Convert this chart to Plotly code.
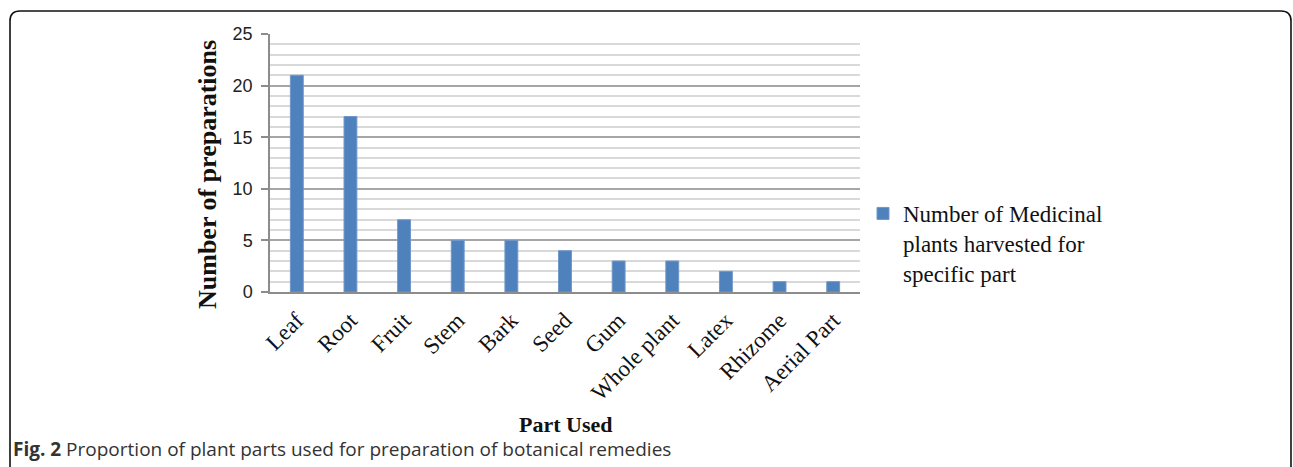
import plotly.graph_objects as go

categories = ["Leaf", "Root", "Fruit", "Stem", "Bark", "Seed", "Gum",
              "Whole plant", "Latex", "Rhizome", "Aerial Part"]
values = [21, 17, 7, 5, 5, 4, 3, 3, 2, 1, 1]
series_name = "Number of Medicinal<br>plants harvested for<br>specific part"
y_ticks = [0, 5, 10, 15, 20, 25]

W, H = 1293, 467
ML, MR, MT, MB = 270, W - 860, 34, H - 292


def px(x):
    return (x - ML) / (W - ML - MR)


def py(y):
    return (H - MB - y) / (H - MT - MB)


fig = go.Figure()
fig.add_trace(go.Bar(
    x=categories, y=values, name=series_name,
    marker=dict(color="#4F81BD", line=dict(color="#6F97C9", width=1)),
    showlegend=True,
))

frame = (f"M {px(10)},{py(480)} L {px(10)},{py(21)} "
         f"Q {px(10)},{py(11)} {px(20)},{py(11)} "
         f"L {px(1281)},{py(11)} "
         f"Q {px(1291)},{py(11)} {px(1291)},{py(21)} "
         f"L {px(1291)},{py(480)}")

fig.update_layout(
    width=W, height=H,
    margin=dict(l=ML, r=MR, t=MT, b=MB),
    paper_bgcolor="white", plot_bgcolor="white",
    bargap=0.76,
    showlegend=True,
    legend=dict(
        x=px(863), y=py(192), xanchor="left", yanchor="top",
        font=dict(family="Liberation Serif", size=23, color="#111"),
        valign="top", itemwidth=30, tracegroupgap=0,
        bgcolor="rgba(0,0,0,0)",
    ),
    xaxis=dict(
        showline=True, linecolor="#8c8c8c", linewidth=1.5,
        ticks="", tickangle=-45,
        tickfont=dict(family="Liberation Serif", size=23, color="#111"),
        ticklabelstandoff=4,
        automargin=False,
    ),
    yaxis=dict(
        range=[0, 25], tickvals=y_ticks,
        showline=True, linecolor="#8c8c8c", linewidth=1.5,
        ticks="outside", ticklen=7, tickcolor="#8c8c8c", tickwidth=1.5,
        showgrid=True, gridcolor="#a6a6a6", gridwidth=1.5,
        minor=dict(dtick=1, showgrid=True, gridcolor="#d9d9d9", gridwidth=1.5),
        tickfont=dict(family="Liberation Sans", size=18, color="#222"),
        ticklabelstandoff=5,
        zeroline=False,
        automargin=False,
    ),
    shapes=[dict(type="path", xref="paper", yref="paper", path=frame,
                 line=dict(color="#111", width=1.6), layer="above")],
    annotations=[
        dict(xref="paper", yref="paper", x=px(207), y=py(175),
             xanchor="center", yanchor="middle", showarrow=False,
             textangle=-90, text="<b>Number of preparations</b>",
             font=dict(family="Liberation Serif", size=26, color="#111")),
        dict(xref="paper", yref="paper", x=px(565), y=py(424),
             xanchor="center", yanchor="middle", showarrow=False,
             text="<b>Part Used</b>",
             font=dict(family="Liberation Serif", size=22, color="#111")),
        dict(xref="paper", yref="paper", x=px(11), y=py(449),
             xanchor="left", yanchor="middle", showarrow=False,
             text="<b>Fig. 2</b> Proportion of plant parts used for preparation of botanical remedies",
             font=dict(family="Open Sans", size=19, color="#333")),
    ],
)

fig.write_html("out.html")
